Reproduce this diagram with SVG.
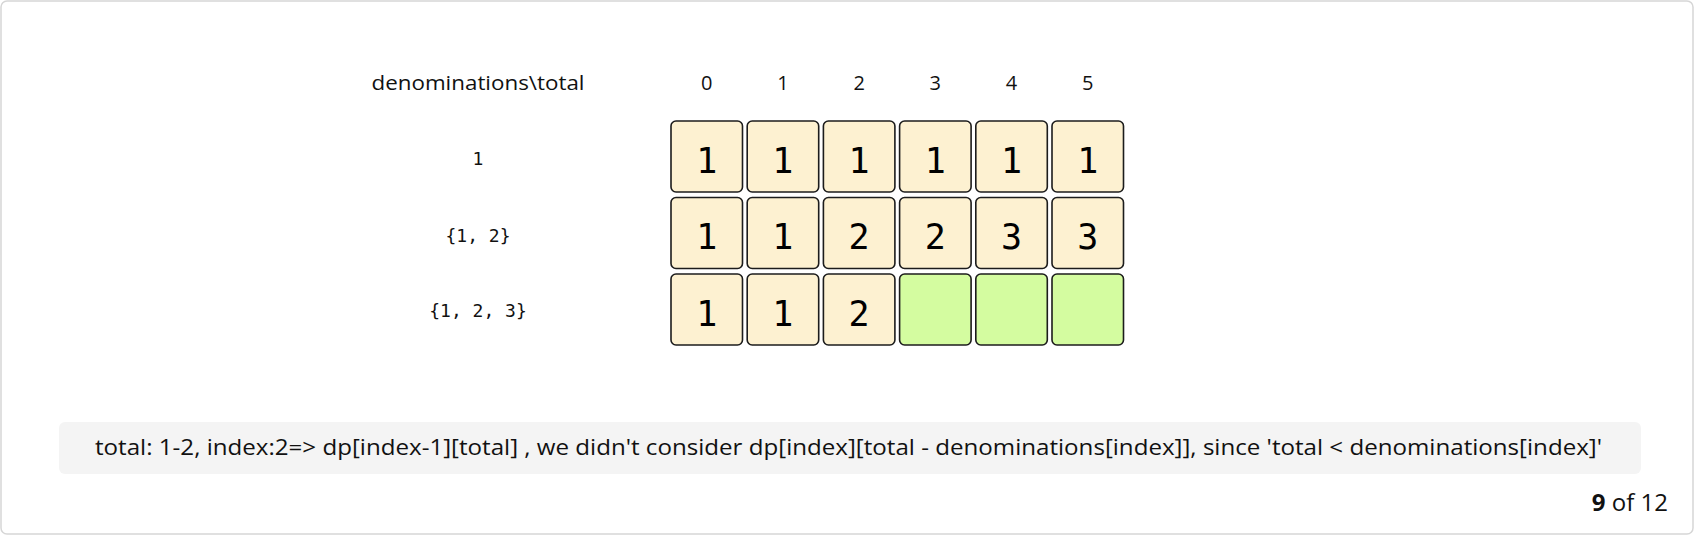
<svg xmlns="http://www.w3.org/2000/svg" width="1700" height="538" viewBox="0 0 1700 538">
<style>
.frame{fill:#ffffff;stroke:#d6d6d6;stroke-width:1.5}
.cell{fill:#fdf1d1;stroke:#1c1c1c;stroke-width:1.6}
.cell.hl{fill:#d4fca0}
.val{font-family:"DejaVu Sans Mono",monospace;font-size:35px;fill:#000;text-anchor:middle}
.hdr{font-family:"Open Sans","Liberation Sans",sans-serif;font-size:20px;fill:#111;text-anchor:middle}
.row{font-family:"DejaVu Sans Mono",monospace;font-size:18px;fill:#111;text-anchor:middle}
.cap{font-family:"Open Sans","Liberation Sans",sans-serif;font-size:22px;fill:#111}
.pg{font-family:"Open Sans","Liberation Sans",sans-serif;font-size:24px;fill:#111;text-anchor:end}
</style>
<rect class="frame" x="1" y="1" width="1692" height="533" rx="6"/>
<g id="headers">
<text class="hdr" x="478" y="90" textLength="213" lengthAdjust="spacingAndGlyphs">denominations\total</text>
<text class="hdr" x="706.7" y="90">0</text>
<text class="hdr" x="782.9" y="90">1</text>
<text class="hdr" x="859.1" y="90">2</text>
<text class="hdr" x="935.3" y="90">3</text>
<text class="hdr" x="1011.5" y="90">4</text>
<text class="hdr" x="1087.7" y="90">5</text>
</g>
<g id="row-labels">
<text class="row" x="478" y="165">1</text>
<text class="row" x="478" y="242">{1, 2}</text>
<text class="row" x="478" y="317">{1, 2, 3}</text>
</g>
<g id="row1">
<rect class="cell" x="671" y="121" width="71.5" height="71" rx="5"/><text class="val" x="706.7" y="172.5">1</text>
<rect class="cell" x="747.2" y="121" width="71.5" height="71" rx="5"/><text class="val" x="782.9" y="172.5">1</text>
<rect class="cell" x="823.4" y="121" width="71.5" height="71" rx="5"/><text class="val" x="859.1" y="172.5">1</text>
<rect class="cell" x="899.6" y="121" width="71.5" height="71" rx="5"/><text class="val" x="935.3" y="172.5">1</text>
<rect class="cell" x="975.8" y="121" width="71.5" height="71" rx="5"/><text class="val" x="1011.5" y="172.5">1</text>
<rect class="cell" x="1052" y="121" width="71.5" height="71" rx="5"/><text class="val" x="1087.7" y="172.5">1</text>
</g>
<g id="row2">
<rect class="cell" x="671" y="197.5" width="71.5" height="71" rx="5"/><text class="val" x="706.7" y="249">1</text>
<rect class="cell" x="747.2" y="197.5" width="71.5" height="71" rx="5"/><text class="val" x="782.9" y="249">1</text>
<rect class="cell" x="823.4" y="197.5" width="71.5" height="71" rx="5"/><text class="val" x="859.1" y="249">2</text>
<rect class="cell" x="899.6" y="197.5" width="71.5" height="71" rx="5"/><text class="val" x="935.3" y="249">2</text>
<rect class="cell" x="975.8" y="197.5" width="71.5" height="71" rx="5"/><text class="val" x="1011.5" y="249">3</text>
<rect class="cell" x="1052" y="197.5" width="71.5" height="71" rx="5"/><text class="val" x="1087.7" y="249">3</text>
</g>
<g id="row3">
<rect class="cell" x="671" y="274" width="71.5" height="71" rx="5"/><text class="val" x="706.7" y="325.5">1</text>
<rect class="cell" x="747.2" y="274" width="71.5" height="71" rx="5"/><text class="val" x="782.9" y="325.5">1</text>
<rect class="cell" x="823.4" y="274" width="71.5" height="71" rx="5"/><text class="val" x="859.1" y="325.5">2</text>
<rect class="cell hl" x="899.6" y="274" width="71.5" height="71" rx="5"/>
<rect class="cell hl" x="975.8" y="274" width="71.5" height="71" rx="5"/>
<rect class="cell hl" x="1052" y="274" width="71.5" height="71" rx="5"/>
</g>
<g id="caption">
<rect x="59" y="422" width="1582" height="52" rx="6" fill="#f4f4f4"/>
<text class="cap" x="95" y="455" textLength="1507" lengthAdjust="spacingAndGlyphs">total: 1-2, index:2=&gt; dp[index-1][total] , we didn't consider dp[index][total - denominations[index]], since 'total &lt; denominations[index]'</text>
</g>
<g id="pager">
<text class="pg" x="1668" y="511"><tspan font-weight="bold">9</tspan> of 12</text>
</g>
<g id="connectors"/>
</svg>
